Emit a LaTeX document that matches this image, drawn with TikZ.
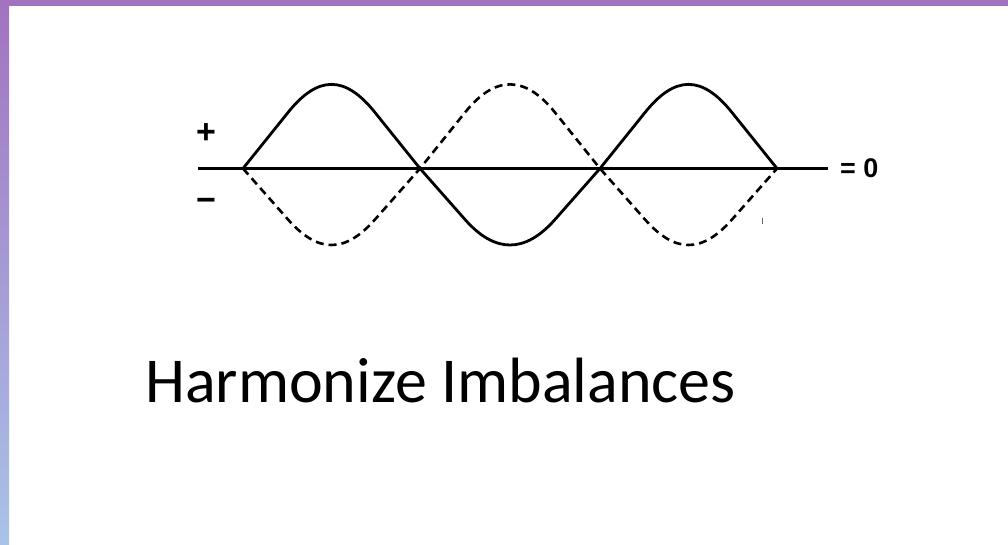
\documentclass[tikz,border=0pt]{standalone}
\usepackage{fontspec}
\setmainfont{Carlito}
\newfontfamily\labelfont{Liberation Sans}
\usetikzlibrary{calc,positioning}
\definecolor{barpurple}{HTML}{A273C0}
\definecolor{barmid}{HTML}{966CC4}
\definecolor{barblue}{HTML}{A9C3E8}

\begin{document}
\begin{tikzpicture}[
  x=1pt, y=-1pt,
  wave/.style={line width=2.8pt, line join=round, line cap=round},
  ghost/.style={wave, line width=2.6pt, line cap=butt, dash pattern=on 8pt off 5pt},
  axisline/.style={line width=2.2pt},
  sign/.style={font=\labelfont\bfseries\fontsize{34}{34}\selectfont, inner sep=0pt},
  zerolabel/.style={font=\labelfont\bfseries\fontsize{27}{27}\selectfont, inner sep=0pt},
  title/.style={font=\fontsize{64}{64}\selectfont, inner sep=0pt, anchor=base west},
]
  \useasboundingbox (0,0) rectangle (1008,545);
  \shade[top color=barpurple, middle color=barmid, bottom color=barblue] (0,0) rectangle (9,545);
  \fill[barpurple] (0,0) rectangle (1008,6);

  \coordinate (al) at (198,168.5);
  \coordinate (ar) at (828,168.5);
  \coordinate (p0) at (243,168.5);
  \coordinate (p1) at (420,168.5);
  \coordinate (p2) at (600,168.5);
  \coordinate (p3) at (777,168.5);
  \draw[axisline] (al) -- (ar);

  \draw[wave] (p0) -- ++(45,-56) .. controls +(30,-37.5) and +(-30,-37.5) .. ($(p1)+(-45,-56)$) -- (p1)
              -- ++(45,51) .. controls +(30,34) and +(-30,34) .. ($(p2)+(-45,51)$) -- (p2)
              -- ++(45,-56) .. controls +(30,-37.5) and +(-30,-37.5) .. ($(p3)+(-45,-56)$) -- (p3);
  \draw[ghost] (p0) -- ++(45,51) .. controls +(30,34) and +(-30,34) .. ($(p1)+(-45,51)$) -- (p1)
               -- ++(45,-56) .. controls +(30,-37.5) and +(-30,-37.5) .. ($(p2)+(-45,-56)$) -- (p2)
               -- ++(45,51) .. controls +(30,34) and +(-30,34) .. ($(p3)+(-45,51)$) -- (p3);
  \coordinate (tk) at (762,218);
  \draw[line width=0.8pt, black!60] (tk) -- ++(0,6);

  \node[sign] (plus) at (206,134) {+};
  \node[sign] (minus) at (206,205) {−};
  \node[zerolabel, anchor=west] (zero) at (840,168.5) {= 0};

  \node[title] (caption) at (145,402) {Harmonize Imbalances};
\end{tikzpicture}
\end{document}
